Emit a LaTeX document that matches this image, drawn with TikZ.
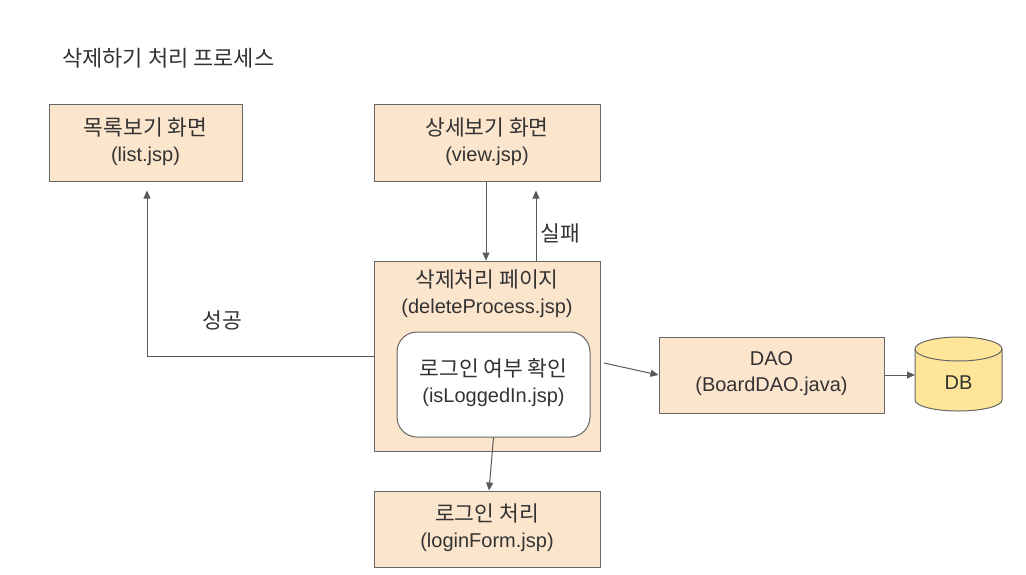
\documentclass[tikz,border=0pt]{standalone}
\usepackage{fontspec}
\setmainfont{Liberation Sans}
\newfontfamily\kr{Noto Sans CJK KR}
\newcommand\ko[1]{{\kr\fontsize{21.5}{26}\selectfont #1}}
\usetikzlibrary{arrows.meta}
\definecolor{peach}{HTML}{FCE5CD}
\definecolor{dbyellow}{HTML}{FFE599}
\definecolor{edge}{HTML}{666666}
\definecolor{txt}{HTML}{333333}
\definecolor{conn}{HTML}{595959}
\begin{document}
\begin{tikzpicture}[x=1pt,y=-1pt,
  box/.style={draw=edge,fill=peach,line width=1pt,minimum width=#1,inner sep=0pt},
  box/.default=226pt,
  lbl/.style={text=txt,font=\fontsize{20}{26}\selectfont,align=center,inner sep=0pt},
  conn/.style={draw=conn,line width=1pt,-{Triangle[length=8pt,width=7pt]}}]
\useasboundingbox (0,0) rectangle (1026,574);
\node[lbl,anchor=west] (title) at (62,58) {{\kr\fontsize{22}{26}\selectfont 삭제하기 처리 프로세스}};
% boxes
\node[box=193pt,minimum height=77pt] (list) at (145.5,142.5) {};
\node[lbl] (listt) at (145.5,142) {\ko{목록보기 화면}\\(list.jsp)};
\node[box,minimum height=77pt] (view) at (487,142.5) {};
\node[lbl] (viewt) at (487,142) {\ko{상세보기 화면}\\(view.jsp)};
\node[box,minimum height=190pt] (del) at (487,356) {};
\node[lbl] (delt) at (487,294) {\ko{삭제처리 페이지}\\(deleteProcess.jsp)};
\node[draw=edge,fill=white,line width=1pt,rounded corners=20pt,minimum width=193pt,minimum height=105pt,inner sep=0pt] (inner) at (493.5,384.5) {};
\node[lbl] (innert) at (493.5,383) {\ko{로그인 여부 확인}\\(isLoggedIn.jsp)};
\node[box,minimum height=76pt] (login) at (487,529) {};
\node[lbl] (logint) at (487,528) {\ko{로그인 처리}\\(loginForm.jsp)};
\node[box=225pt,minimum height=76pt] (dao) at (771.5,375) {};
\node[lbl] (daot) at (771.5,374) {DAO\\(BoardDAO.java)};
% DB cylinder
\fill[dbyellow] (915,349) -- (915,400) arc[start angle=180,end angle=0,x radius=43.5,y radius=11] -- (1002,349) -- cycle;
\fill[dbyellow] (958.5,349) ellipse[x radius=43.5,y radius=12];
\draw[edge,line width=1pt] (915,349) -- (915,400) arc[start angle=180,end angle=0,x radius=43.5,y radius=11] -- (1002,349);
\draw[edge,line width=1pt] (958.5,349) ellipse[x radius=43.5,y radius=12];
\node[lbl] (db) at (958.5,383) {DB};
\coordinate (dbw) at (915,375);
\coordinate (innerout) at (604,363);
% labels
\node[lbl] (fail) at (560,233) {\ko{실패}};
\node[lbl] (ok) at (222,320) {\ko{성공}};
% connectors
\draw[conn] ([xshift=-1pt]view.south) -- ([xshift=-1pt]del.north);
\draw[conn,shorten >=9pt] ([xshift=49pt]del.north) -- ([xshift=49pt]view.south);
\draw[conn,shorten >=9pt] (del.west) -| ([xshift=1.5pt]list.south);
\draw[conn] (innerout) -- (dao.west);
\draw[conn] (inner.south) -- ([xshift=2pt]login.north);
\draw[conn] (dao.east) -- (dbw);
\end{tikzpicture}
\end{document}
